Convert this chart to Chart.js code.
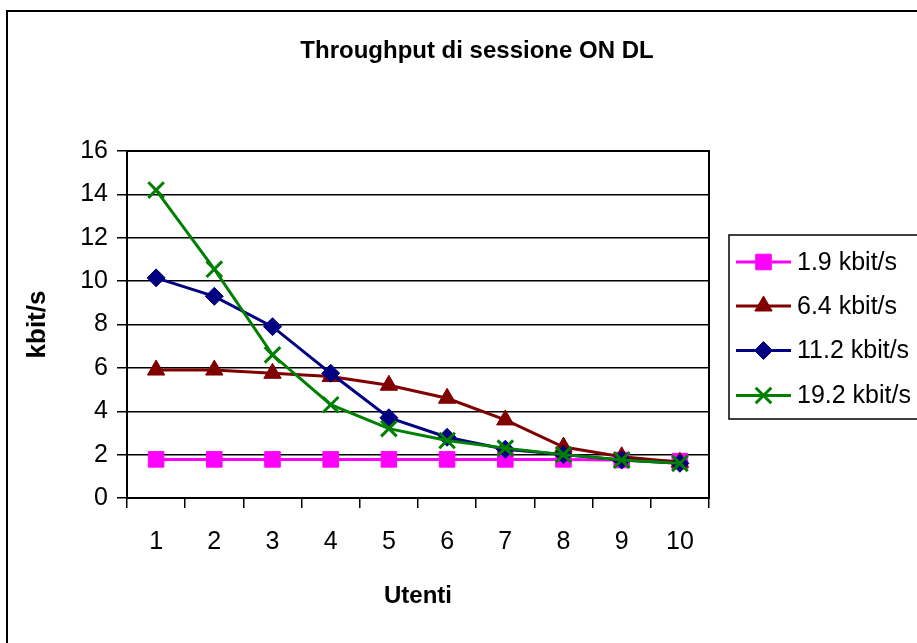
<!DOCTYPE html>
<html>
<head>
<meta charset="utf-8">
<title>Throughput di sessione ON DL</title>
<script src="https://cdn.jsdelivr.net/npm/chart.js@4.4.1/dist/chart.umd.min.js"></script>
<style>
  html, body { margin: 0; padding: 0; background: #ffffff; }
  #wrap { position: relative; width: 917px; height: 643px; }
</style>
</head>
<body>
<div id="wrap"><canvas id="throughputChart"></canvas></div>
<script>
// Throughput di sessione ON in downlink, al variare del numero di utenti

const utenti = ['1', '2', '3', '4', '5', '6', '7', '8', '9', '10'];
const serieLabels = ['1.9 kbit/s', '6.4 kbit/s', '11.2 kbit/s', '19.2 kbit/s'];

const thr1_9 = [1.78, 1.78, 1.78, 1.78, 1.78, 1.78, 1.78, 1.78, 1.75, 1.7];
const thr6_4 = [5.9, 5.9, 5.75, 5.6, 5.2, 4.6, 3.6, 2.35, 1.9, 1.65];
const thr11_2 = [10.15, 9.3, 7.9, 5.75, 3.7, 2.8, 2.25, 2.0, 1.75, 1.6];
const thr19_2 = [14.2, 10.55, 6.6, 4.3, 3.2, 2.65, 2.3, 2.0, 1.75, 1.6];

const yMin = 0;
const yMax = 16;
const yStep = 2;

const fontFamily = "'Liberation Sans', Arial, Helvetica, sans-serif";

const palette = {
  pink: '#FF00FF',
  darkRed: '#800000',
  navy: '#000080',
  green: '#008000',
  black: '#000000'
};

function serie(label, data, color, pointStyle, radius, order) {
  return {
    label: label,
    data: data,
    borderColor: color,
    backgroundColor: color,
    borderWidth: 3,
    tension: 0,
    pointStyle: pointStyle,
    pointRadius: radius,
    pointHoverRadius: radius,
    pointBackgroundColor: color,
    pointBorderColor: color,
    pointBorderWidth: pointStyle === 'crossRot' ? 3 : 1,
    order: order
  };
}

// Cornice esterna, bordo dell'area del grafico, titolo e legenda a destra
const cornicePlugin = {
  id: 'cornice',
  beforeDraw(chart) {
    const ctx = chart.ctx;
    ctx.save();
    ctx.fillStyle = '#ffffff';
    ctx.fillRect(0, 0, chart.width, chart.height);
    ctx.strokeStyle = palette.black;
    ctx.lineWidth = 2;
    ctx.strokeRect(7, 11, chart.width + 20, chart.height + 20);
    ctx.restore();
  },
  beforeDatasetsDraw(chart) {
    const a = chart.chartArea;
    const ctx = chart.ctx;
    ctx.save();
    ctx.strokeStyle = palette.black;
    ctx.lineWidth = 2;
    ctx.strokeRect(a.left, a.top, a.right - a.left, a.bottom - a.top);
    ctx.restore();
  },
  afterDraw(chart) {
    const ctx = chart.ctx;
    ctx.save();

    // titolo
    ctx.fillStyle = palette.black;
    ctx.font = 'bold 24px ' + fontFamily;
    ctx.textAlign = 'center';
    ctx.textBaseline = 'alphabetic';
    ctx.fillText('Throughput di sessione ON DL', 477, 58);

    // legenda
    const box = { x: 729, y: 235, w: 220, h: 184 };
    ctx.lineWidth = 1.5;
    ctx.strokeStyle = palette.black;
    ctx.strokeRect(box.x, box.y, box.w, box.h);

    const rowY = [262, 306, 350.5, 395.5];
    chart.data.datasets.forEach(function(ds, i) {
      const y = rowY[i];
      ctx.strokeStyle = ds.borderColor;
      ctx.fillStyle = ds.borderColor;
      ctx.lineWidth = 3;
      ctx.beginPath();
      ctx.moveTo(736, y);
      ctx.lineTo(791, y);
      ctx.stroke();
      ctx.lineWidth = ds.pointBorderWidth;
      Chart.helpers.drawPoint(ctx, {
        pointStyle: ds.pointStyle,
        radius: ds.pointRadius,
        borderWidth: ds.pointBorderWidth,
        rotation: 0
      }, 763.5, y);

      ctx.fillStyle = palette.black;
      ctx.font = '25px ' + fontFamily;
      ctx.textAlign = 'left';
      ctx.textBaseline = 'middle';
      ctx.fillText(ds.label, 797, y + 1);
    });

    ctx.restore();
  }
};

const throughputChart = document.getElementById('throughputChart');
new Chart(throughputChart, {
  type: 'line',
  data: {
    labels: utenti,
    datasets: [
      serie(serieLabels[0], thr1_9, palette.pink, 'rect', 11, 4),
      serie(serieLabels[1], thr6_4, palette.darkRed, 'triangle', 10, 3),
      serie(serieLabels[2], thr11_2, palette.navy, 'rectRot', 9, 2),
      serie(serieLabels[3], thr19_2, palette.green, 'crossRot', 11, 1)
    ]
  },
  options: {
    responsive: true,
    maintainAspectRatio: false,
    animation: false,
    layout: {
      padding: { top: 151, right: 208, bottom: 0, left: 0 }
    },
    scales: {
      x: {
        offset: true,
        grid: {
          display: true,
          offset: true,
          drawOnChartArea: false,
          drawTicks: true,
          tickLength: 10,
          color: palette.black,
          lineWidth: 1.5
        },
        border: { display: true, color: palette.black, width: 2 },
        ticks: {
          color: palette.black,
          font: { family: fontFamily, size: 25 },
          padding: 19,
          maxRotation: 0,
          autoSkip: false
        },
        title: {
          display: true,
          text: 'Utenti',
          color: palette.black,
          font: { family: fontFamily, size: 24, weight: 'bold' },
          padding: { top: 0, bottom: 32 }
        },
        afterFit(scale) {
          scale.height = 145;
        }
      },
      y: {
        min: yMin,
        max: yMax,
        grid: {
          color: palette.black,
          lineWidth: 1.5,
          tickLength: 10
        },
        border: { display: true, color: palette.black, width: 2 },
        ticks: {
          stepSize: yStep,
          color: palette.black,
          font: { family: fontFamily, size: 25 },
          padding: 9
        },
        title: {
          display: true,
          text: 'kbit/s',
          color: palette.black,
          font: { family: fontFamily, size: 26, weight: 'bold' },
          padding: { top: 22, bottom: 0 }
        },
        afterFit(scale) {
          scale.width = 127;
        }
      }
    },
    plugins: {
      legend: { display: false },
      title: { display: false },
      tooltip: { enabled: false }
    }
  },
  plugins: [cornicePlugin]
});
</script>
</body>
</html>
